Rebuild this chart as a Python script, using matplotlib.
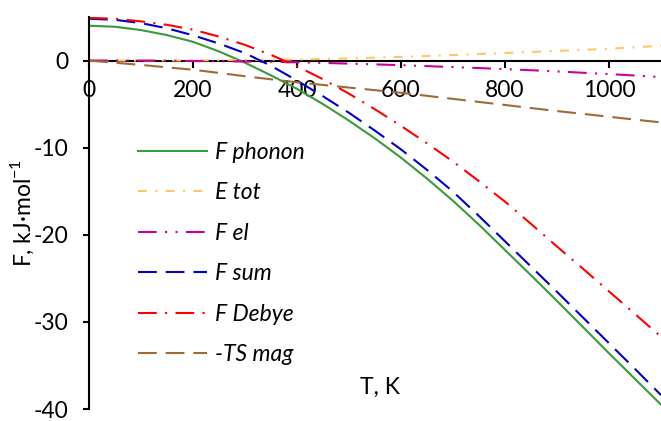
import numpy as np
import matplotlib
matplotlib.use('Agg')
import matplotlib.pyplot as plt

plt.rcParams['font.family'] = ['Lato', 'DejaVu Sans']
plt.rcParams['axes.unicode_minus'] = False
plt.rcParams['mathtext.fontset'] = 'custom'
plt.rcParams['mathtext.rm'] = 'Lato'

#------------------------------------------------------------------------------
# dati (passo 50 K)

T = [0, 50, 100, 150, 200, 250, 300, 350, 400, 450, 500, 550, 600,
     650, 700, 750, 800, 850, 900, 950, 1000, 1050, 1100]

F_phonon = [4.0, 3.88, 3.5, 2.92, 2.15, 1.05, -0.25, -1.7, -3.25, -5.0, -6.9, -8.95, -11.15,
            -13.55, -16.1, -18.85, -21.75, -24.65, -27.6, -30.6, -33.6, -36.55, -39.5]
E_tot = [0.0, 0.0, 0.0, 0.01, 0.02, 0.04, 0.06, 0.09, 0.12, 0.18, 0.25, 0.33, 0.42,
         0.52, 0.63, 0.75, 0.87, 0.98, 1.1, 1.23, 1.36, 1.52, 1.7]
F_el = [0.0, 0.0, 0.0, -0.02, -0.05, -0.08, -0.11, -0.15, -0.2, -0.27, -0.35, -0.44, -0.53,
        -0.64, -0.75, -0.86, -0.98, -1.11, -1.25, -1.4, -1.55, -1.72, -1.9]
F_sum = [4.8, 4.68, 4.3, 3.7, 2.9, 1.95, 0.85, -0.6, -2.3, -4.1, -6.0, -8.05, -10.2,
         -12.55, -15.05, -17.85, -20.75, -23.65, -26.55, -29.5, -32.45, -35.4, -38.4]
F_debye = [4.9, 4.8, 4.5, 4.1, 3.55, 2.75, 1.8, 0.65, -0.65, -2.15, -3.8, -5.6, -7.5,
           -9.5, -11.6, -13.85, -16.2, -18.75, -21.35, -23.9, -26.5, -29.1, -31.7]
TS_mag = [0.0, -0.25, -0.5, -0.78, -1.05, -1.42, -1.8, -2.15, -2.5, -2.8, -3.1, -3.4, -3.7,
          -4.05, -4.4, -4.75, -5.1, -5.45, -5.8, -6.12, -6.45, -6.78, -7.1]

labels = ['F phonon', 'E tot', 'F el', 'F sum', 'F Debye', '-TS mag']
colori = ['#3a9b3a', '#ffc765', '#cc0099', '#0000cc', '#ff0000', '#9e6b36']
stili = ['-', (0, (4.3, 4, 1, 4)), (0, (9, 4, 1, 4, 1, 4)), (0, (9, 4.3)),
         (0, (9, 4, 1, 4)), (0, (9, 4.3))]
serie = [F_phonon, E_tot, F_el, F_sum, F_debye, TS_mag]

#------------------------------------------------------------------------------
# plot

fig = plt.figure(figsize=(6.61, 4.21), dpi=100)
ax = fig.add_axes([89/661, 12/421, 1 - 89/661, 392/421])

for y, lab, c, ls in zip(serie, labels, colori, stili):
    ax.plot(T, y, color=c, linestyle=ls, lw=1.5, label=lab)

ax.set_xlim(0, 1100)
ax.set_ylim(-40, 5)
ax.set_xticks([0, 200, 400, 600, 800, 1000])
ax.set_yticks([0, -10, -20, -30, -40])

ax.spines['top'].set_visible(False)
ax.spines['right'].set_visible(False)
ax.spines['bottom'].set_position(('data', 0))
ax.spines['bottom'].set_linewidth(1.5)
ax.spines['left'].set_linewidth(1.5)
ax.spines['bottom'].set_zorder(1)

ax.tick_params(axis='x', direction='out', length=5, width=1.5, pad=9, labelsize=16.5)
ax.tick_params(axis='y', direction='out', length=4.5, width=1.5, pad=10, labelsize=16.5)

ax.set_xlabel('T, K', fontsize=16.5)
ax.xaxis.set_label_coords(0.509, 0.055)
ax.xaxis.label.set_va('center')
ax.set_ylabel(r'F, kJ·mol$^{-1}$', fontsize=16.5)
ax.yaxis.set_label_coords(-0.117, 0.5)
ax.yaxis.label.set_va('center')

leg = ax.legend(loc='upper left', bbox_to_anchor=(138/661, 1 - 142/421),
                bbox_transform=fig.transFigure, frameon=False,
                prop={'style': 'italic', 'size': 16.5}, handlelength=3.0,
                handletextpad=0.35, labelspacing=0.85, borderpad=0, borderaxespad=0)

fig.savefig('out.png', dpi=100)
